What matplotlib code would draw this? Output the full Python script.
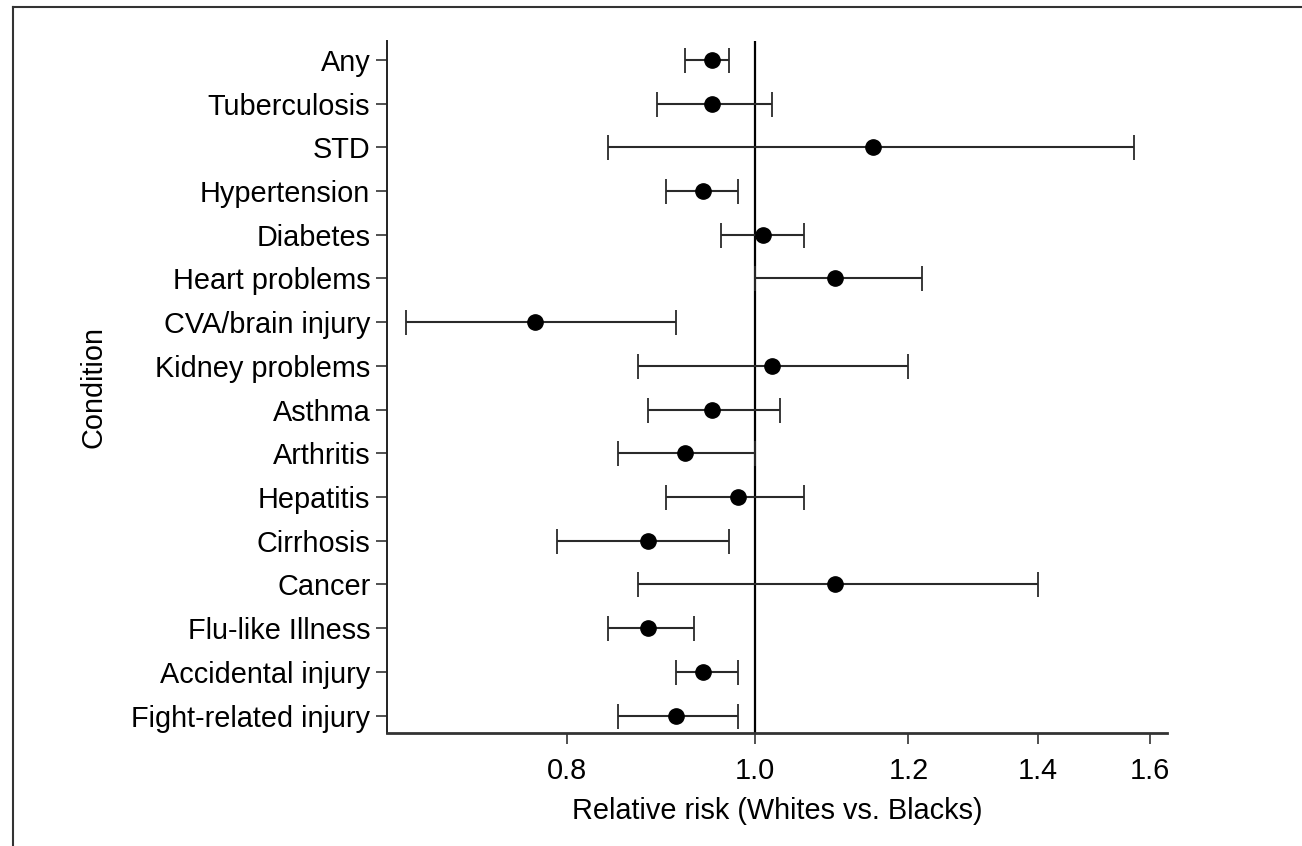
import matplotlib
matplotlib.use("Agg")
import matplotlib.pyplot as plt
from matplotlib.ticker import FixedLocator, FixedFormatter, NullLocator
from matplotlib.lines import Line2D

plt.rcParams['font.family'] = ['Liberation Sans', 'DejaVu Sans']

conditions = ["Any", "Tuberculosis", "STD", "Hypertension", "Diabetes",
              "Heart problems", "CVA/brain injury", "Kidney problems", "Asthma",
              "Arthritis", "Hepatitis", "Cirrhosis", "Cancer", "Flu-like Illness",
              "Accidental injury", "Fight-related injury"]
rr = [0.95, 0.95, 1.15, 0.94, 1.01, 1.10, 0.77, 1.02, 0.95, 0.92, 0.98, 0.88,
      1.10, 0.88, 0.94, 0.91]
ci_low = [0.92, 0.89, 0.84, 0.90, 0.96, 1.00, 0.66, 0.87, 0.88, 0.85, 0.90,
          0.79, 0.87, 0.84, 0.91, 0.85]
ci_high = [0.97, 1.02, 1.57, 0.98, 1.06, 1.22, 0.91, 1.20, 1.03, 1.00, 1.06,
           0.97, 1.40, 0.93, 0.98, 0.98]
xticks = [0.8, 1.0, 1.2, 1.4, 1.6]
xtick_labels = ["0.8", "1.0", "1.2", "1.4", "1.6"]

fig = plt.figure(figsize=(13.02, 8.46), dpi=100)
ax = fig.add_axes([387/1302, 1-733/846, (1167-387)/1302, (733-41)/846])

ypos = list(range(len(conditions)))
err_lo = [r - l for r, l in zip(rr, ci_low)]
err_hi = [h - r for r, h in zip(rr, ci_high)]

ax.axvline(1.0, color='black', lw=1.6, zorder=1)
ax.errorbar(rr, ypos, xerr=[err_lo, err_hi], fmt='o', color='black',
            ecolor='#2a2a2a', elinewidth=1.5, capsize=9, capthick=1.3,
            markersize=11, zorder=3)

ax.set_xscale('log')
ax.set_xlim(0.6456, 1.632)
ax.set_ylim(15.4, -0.43)
ax.xaxis.set_major_locator(FixedLocator(xticks))
ax.xaxis.set_major_formatter(FixedFormatter(xtick_labels))
ax.xaxis.set_minor_locator(NullLocator())
ax.set_yticks(ypos)
ax.set_yticklabels(conditions)

for s in ['top', 'right']:
    ax.spines[s].set_visible(False)
ax.spines['left'].set_linewidth(1.4)
ax.spines['bottom'].set_linewidth(2.0)
ax.spines['left'].set_color('#222222')
ax.spines['bottom'].set_color('#333333')
ax.tick_params(axis='both', direction='out', length=8, width=1.2,
               color='#333333', labelsize=20.8, pad=4)
ax.tick_params(axis='x', pad=9)

ax.set_xlabel("Relative risk (Whites vs. Blacks)", fontsize=20.8, labelpad=9)
ax.set_ylabel("Condition", fontsize=20.8, labelpad=17)

# figure frame (cropped)
fig.add_artist(Line2D([13/1302, 13/1302], [0, 1-7/846], transform=fig.transFigure,
                      color='#333333', lw=1.5))
fig.add_artist(Line2D([13/1302, 1], [1-7/846, 1-7/846], transform=fig.transFigure,
                      color='#333333', lw=1.5))

fig.savefig("out.png", dpi=100)
